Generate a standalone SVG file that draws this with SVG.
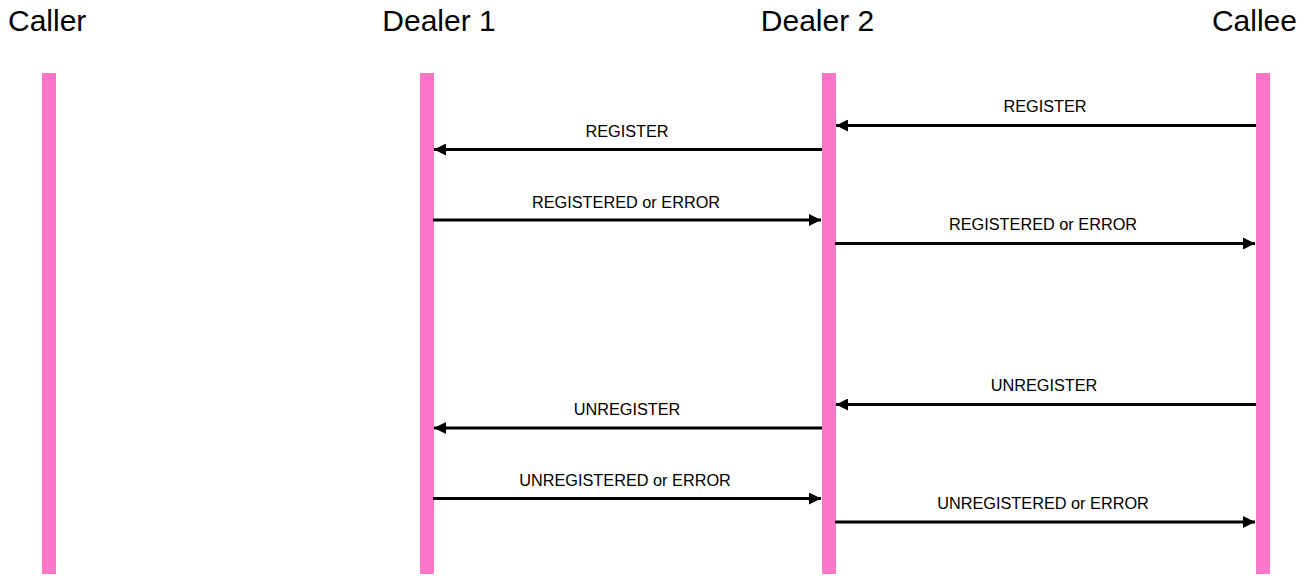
<svg xmlns="http://www.w3.org/2000/svg" width="1307" height="586" viewBox="0 0 1307 586">
<style>
.hdr{font-family:"Liberation Sans",Arial,sans-serif;font-size:30px;fill:#000}
.lbl{font-family:"Liberation Sans",Arial,sans-serif;font-size:16.3px;fill:#000;text-anchor:middle}
.life{fill:#f976c8}
.msg{stroke:#000;stroke-width:3;fill:none;marker-end:url(#ah)}
</style>
<defs>
<marker id="ah" viewBox="0 0 10 10" refX="10" refY="5" markerWidth="4" markerHeight="4" orient="auto" markerUnits="strokeWidth">
<path d="M0,0 L10,5 L0,10 z" fill="#000"/>
</marker>
</defs>
<g id="caller">
<text class="hdr" x="8" y="30.5">Caller</text>
<rect class="life" x="42" y="73" width="14" height="501"/>
</g>
<g id="dealer1">
<text class="hdr" x="439" y="30.5" text-anchor="middle">Dealer 1</text>
<rect class="life" x="420" y="73" width="14" height="501"/>
</g>
<g id="dealer2">
<text class="hdr" x="817.5" y="30.5" text-anchor="middle">Dealer 2</text>
<rect class="life" x="822" y="73" width="14" height="501"/>
</g>
<g id="callee">
<text class="hdr" x="1297" y="30.5" text-anchor="end">Callee</text>
<rect class="life" x="1256" y="73" width="14" height="501"/>
</g>
<g id="connectors">
<line class="msg" x1="1256" y1="125.5" x2="836" y2="125.5"/>
<text class="lbl" x="1045" y="111.5">REGISTER</text>
<line class="msg" x1="822" y1="149.5" x2="434" y2="149.5"/>
<text class="lbl" x="627" y="136.5">REGISTER</text>
<line class="msg" x1="433" y1="220" x2="821" y2="220"/>
<text class="lbl" x="626" y="207.5">REGISTERED or ERROR</text>
<line class="msg" x1="835" y1="243.5" x2="1255" y2="243.5"/>
<text class="lbl" x="1043" y="229.5">REGISTERED or ERROR</text>
<line class="msg" x1="1256" y1="404.5" x2="836" y2="404.5"/>
<text class="lbl" x="1044" y="390.5">UNREGISTER</text>
<line class="msg" x1="822" y1="428" x2="434" y2="428"/>
<text class="lbl" x="627" y="414.5">UNREGISTER</text>
<line class="msg" x1="433" y1="498.5" x2="821" y2="498.5"/>
<text class="lbl" x="625" y="486">UNREGISTERED or ERROR</text>
<line class="msg" x1="835" y1="522" x2="1255" y2="522"/>
<text class="lbl" x="1043" y="508.5">UNREGISTERED or ERROR</text>
</g>
</svg>
